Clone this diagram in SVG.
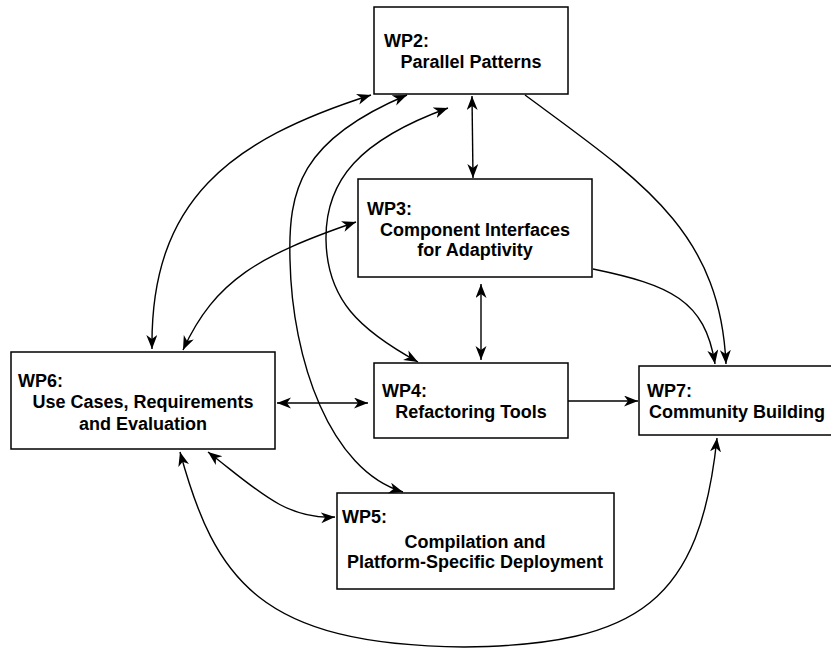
<svg xmlns="http://www.w3.org/2000/svg" width="831" height="648" viewBox="0 0 831 648">
<style>
.box{fill:#fff;stroke:#000;stroke-width:1.5}
.t{font-family:"Liberation Sans",Arial,Helvetica,sans-serif;font-weight:bold;font-size:18px;fill:#000}
.c{text-anchor:middle}
.e{fill:none;stroke:#000;stroke-width:1.4}
.bi{marker-start:url(#ah);marker-end:url(#ah)}
.uni{marker-end:url(#ah)}
</style>
<defs>
<marker id="ah" markerUnits="userSpaceOnUse" markerWidth="16" markerHeight="12" refX="14" refY="5.5" orient="auto-start-reverse" viewBox="0 0 16 12">
<path d="M0,0 L14,5.5 L0,11 L4,5.5 Z" fill="#000"/>
</marker>
</defs>
<rect width="831" height="648" fill="#fff"/>
<g id="nodes">
<g id="wp2"><rect class="box" x="374" y="7" width="194" height="87"/>
<text class="t" x="384" y="47">WP2:</text><text class="t c" x="471" y="68">Parallel Patterns</text></g>
<g id="wp3"><rect class="box" x="358" y="179" width="234" height="98"/>
<text class="t" x="367" y="215">WP3:</text><text class="t c" x="475" y="236">Component Interfaces</text><text class="t c" x="475" y="256">for Adaptivity</text></g>
<g id="wp6"><rect class="box" x="11" y="352" width="264" height="97"/>
<text class="t" x="18" y="387">WP6:</text><text class="t c" x="143" y="408">Use Cases, Requirements</text><text class="t c" x="143" y="430">and Evaluation</text></g>
<g id="wp4"><rect class="box" x="374" y="363" width="194" height="75"/>
<text class="t" x="382" y="397">WP4:</text><text class="t c" x="471" y="418">Refactoring Tools</text></g>
<g id="wp7"><rect class="box" x="639" y="366" width="197" height="69"/>
<text class="t" x="647" y="397">WP7:</text><text class="t c" x="737" y="418">Community Building</text></g>
<g id="wp5"><rect class="box" x="337" y="493" width="277" height="96"/>
<text class="t" x="342" y="523">WP5:</text><text class="t c" x="475" y="548">Compilation and</text><text class="t c" x="475" y="568">Platform-Specific Deployment</text></g>
</g>
<g id="connectors">
<path class="e bi" d="M152,349 C150,200 230,140 371,95"/>
<path class="e bi" d="M407,95 C300,140 288,190 290,260 C292,360 330,470 403,492"/>
<path class="e bi" d="M448,108 C360,140 325,180 326,240 C327,300 360,330 418,362"/>
<path class="e bi" d="M472,96 L473,178"/>
<path class="e bi" d="M183,350 C215,280 260,255 356,222"/>
<path class="e bi" d="M481,284 L481,360"/>
<path class="e uni" d="M593,269 C670,285 705,300 715,364"/>
<path class="e uni" d="M525,95 C640,180 720,230 726,364"/>
<path class="e bi" d="M277,403 L368,403"/>
<path class="e uni" d="M568,401 L638,401"/>
<path class="e bi" d="M208,452 C255,488 285,520 335,517"/>
<path class="e bi" d="M180,452 C215,580 260,645 464,647 C640,645 700,600 717,438"/>
</g>
</svg>
